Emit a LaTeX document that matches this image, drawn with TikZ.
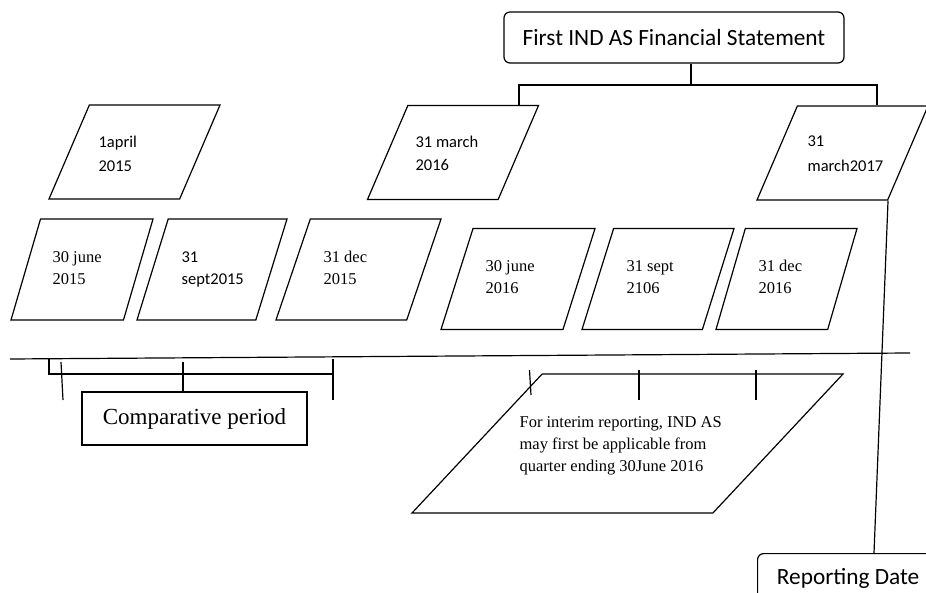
\documentclass[tikz,border=0pt]{standalone}
\usepackage{fontspec}
\setmainfont{Liberation Serif}
\newfontfamily\calibri{Carlito}
\usetikzlibrary{shapes.geometric}

\tikzset{
  para/.style 2 args={trapezium, draw, trapezium left angle=#1, trapezium right angle=#2,
    trapezium stretches=true, inner sep=1pt},
  toprow/.style={para={65.9}{114.1}, minimum height=94pt},
  lowrow/.style={para={70.4}{109.6}, minimum height=101pt},
  datetext/.style={anchor=base west, align=left, inner sep=0pt, font=\fontsize{16.5}{22}\selectfont},
  calitext/.style={datetext, font=\calibri\fontsize{16.5}{24}\selectfont},
  headbox/.style={draw, rounded corners=6pt, font=\calibri\fontsize{23.3}{28}\selectfont},
}

\begin{document}
\begin{tikzpicture}[x=1pt, y=-1pt, line width=1.2pt]
    \clip (0,0) rectangle (926,593);

    % Heading box and the fork below it
    \node[headbox, minimum width=340pt, minimum height=51pt] (fs) at (674,37.5) {First IND AS Financial Statement};
    \coordinate (fork) at (691,85);
    \draw (fs.south -| fork) -- (fork);

    % Top row: transition date and the two year ends
    \node[toprow, minimum width=171pt] (apr15) at (134.5,152) {};
    \node[calitext] (apr15-t) at (98,172) {1april\\2015};
    \node[toprow, minimum width=171pt] (mar16) at (453,152.5) {};
    \node[calitext, font=\calibri\fontsize{16.5}{23}\selectfont] (mar16-t) at (415,171) {31 march\\2016};
    \node[toprow, minimum width=171pt] (mar17) at (842.5,153) {};
    \node[calitext, font=\calibri\fontsize{16.5}{25}\selectfont] (mar17-t) at (807,172) {31\\march2017};

    % Fork down to the year ends
    \draw (mar16.north -| 519,0) |- (fork) -| (mar17.north -| 877,0);

    % Second row: quarters of the comparative year
    \node[lowrow, minimum width=142pt] (jun15) at (82,269.5) {};
    \node[datetext] (jun15-t) at (52,285) {30 june\\2015};
    \node[lowrow, minimum width=150pt] (sep15) at (212,269.5) {};
    \node[calitext, font=\calibri\fontsize{16.5}{22}\selectfont] (sep15-t) at (181,285) {31\\sept2015};
    \node[lowrow, minimum width=165pt] (dec15) at (358.5,269.5) {};
    \node[datetext] (dec15-t) at (323,285) {31 dec\\2015};

    % Second row: quarters of the first year
    \node[lowrow, minimum width=154pt] (jun16) at (518,279) {};
    \node[datetext] (jun16-t) at (485,294) {30 june\\2016};
    \node[lowrow, minimum width=152pt] (sep16) at (658,279) {};
    \node[datetext] (sep16-t) at (626,294) {31 sept\\2106};
    \node[lowrow, minimum width=141pt] (dec16) at (786.5,279) {};
    \node[datetext] (dec16-t) at (758,294) {31 dec\\2016};

    % Time line
    \coordinate (tl-a) at (10,359);
    \coordinate (tl-b) at (910,353);
    \draw (tl-a) -- (tl-b);

    % Comparative period bracket
    \node[draw, minimum width=225pt, minimum height=53pt, font=\fontsize{23}{28}\selectfont] (cp) at (194.5,418.5) {Comparative period};
    \draw (49,359) -- (49,374) -- (333,374);
    \draw (333,359) -- (333,400);
    \draw (61,362) -- (63,400);
    \draw (183,362) -- (cp.north -| 183,0);

    % Interim reporting note with its quarter ticks
    \node[para={52.7}{127.3}, minimum width=431pt, minimum height=139pt] (note) at (627.5,443.5) {};
    \node[datetext] (note-t) at (519,471) {For interim reporting, IND AS\\may first be applicable from\\quarter ending 30June 2016};
    \draw (529.5,370) -- (531,395);
    \draw (639,370) -- (639,400);
    \draw (756,370) -- (756,400);

    % Reporting date
    \node[headbox, anchor=north west, minimum width=181pt, minimum height=49pt] (rd) at (757,553) {Reporting Date};
    \draw (mar17.bottom right corner) -- (rd.north -| 874,0);

\end{tikzpicture}
\end{document}
